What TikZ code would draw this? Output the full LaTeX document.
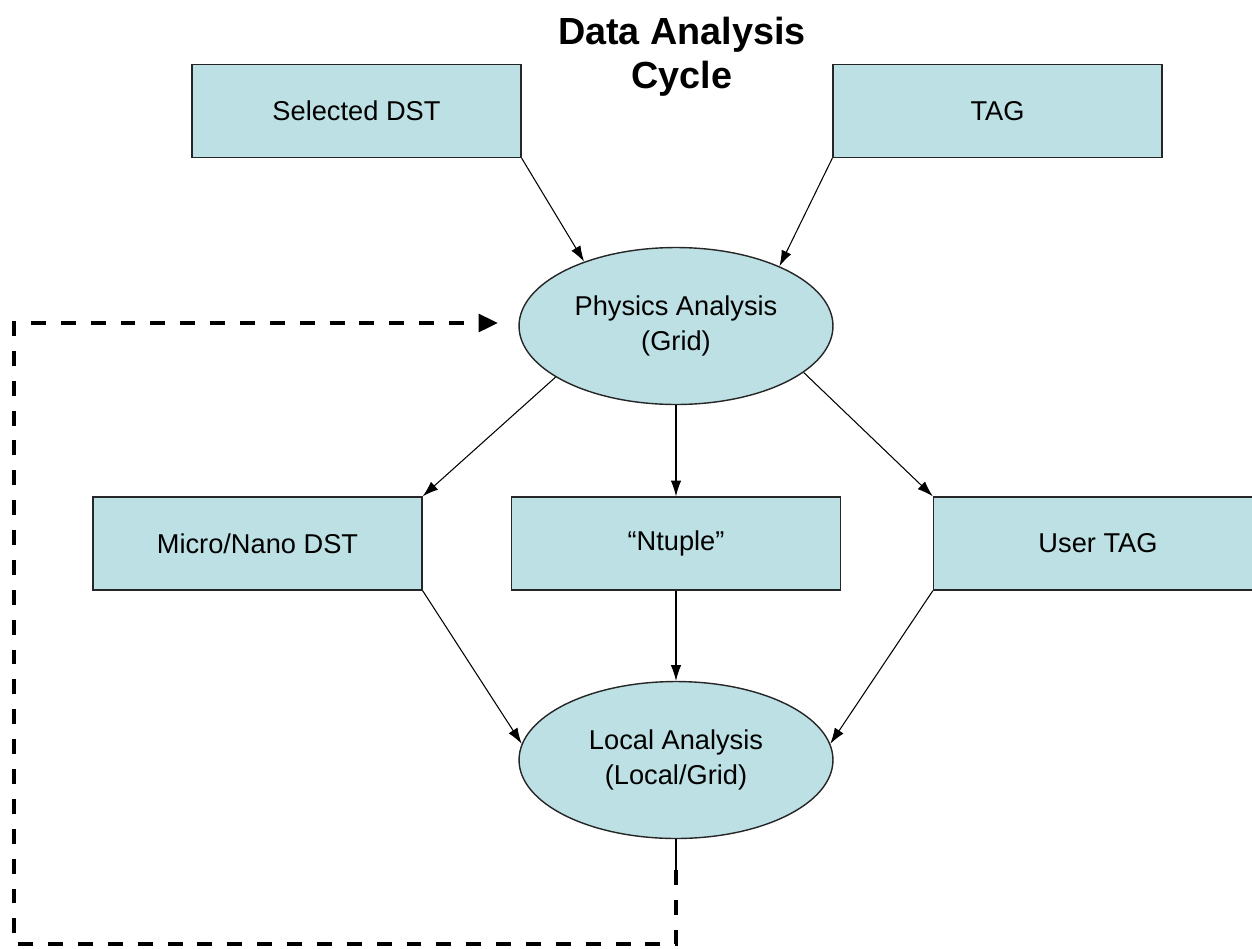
\documentclass[tikz,border=0pt]{standalone}
\usepackage{fontspec}
\setmainfont{Liberation Sans}
\usetikzlibrary{arrows.meta,shapes.geometric}
\definecolor{boxfill}{RGB}{188,224,227}

\begin{document}
\begin{tikzpicture}[x=0.02cm, y=-0.02cm,
  store/.style={draw=black!85, line width=0.8pt, fill=boxfill, minimum width=6.58cm, minimum height=1.86cm, inner sep=0pt, font=\fontsize{15.5}{19}\selectfont},
  proc/.style={ellipse, draw=black!85, line width=0.8pt, fill=boxfill, minimum width=6.28cm, minimum height=3.14cm, inner sep=0pt, align=center, font=\fontsize{15.5}{20}\selectfont},
  flow/.style={-{Latex[length=9pt,width=6pt]}, line width=0.6pt},
  feedback/.style={dash pattern=on 8.5pt off 8.5pt, line width=2.2pt, -{Triangle[length=11pt,width=10pt]}}]
  \useasboundingbox (0,0) rectangle (1252,948);

  \node[font=\bfseries\fontsize{21.5}{25}\selectfont, align=center] (title) at (682,57) {Data Analysis\\Cycle};

  \node[store] (sel) at (356.5,111) {Selected DST};
  \node[store] (tag) at (997.5,111) {TAG};
  \node[proc] (phys) at (676,326) {Physics Analysis\\(Grid)};
  \node[store] (micro) at (257.5,543.5) {Micro/Nano DST};
  \node[store] (ntup) at (676,543.5) {``Ntuple''};
  \node[store] (utag) at (1098,543.5) {User TAG};
  \node[proc] (loc) at (676,760) {Local Analysis\\(Local/Grid)};

  \draw[flow] (sel.south east) to (phys.145);
  \draw[flow] (tag.south west) to (phys.30);
  \draw[flow] (phys.203) to (micro.north east);
  \draw[flow] (phys.south) to (ntup.north);
  \draw[flow] (phys.340) to (utag.north west);
  \draw[flow] (micro.south east) to (loc.174);
  \draw[flow] (ntup.south) to (loc.north);
  \draw[flow] (utag.south west) to (loc.6);

  % feedback loop back to the grid analysis
  \coordinate (fb1) at (676,870);
  \coordinate (fb2) at (14,944);
  \coordinate (fb3) at (498,323);
  \draw[line width=0.6pt] (loc.south) -- (fb1);
  \draw[feedback] (fb1) |- (fb2) |- (fb3);
\end{tikzpicture}
\end{document}
